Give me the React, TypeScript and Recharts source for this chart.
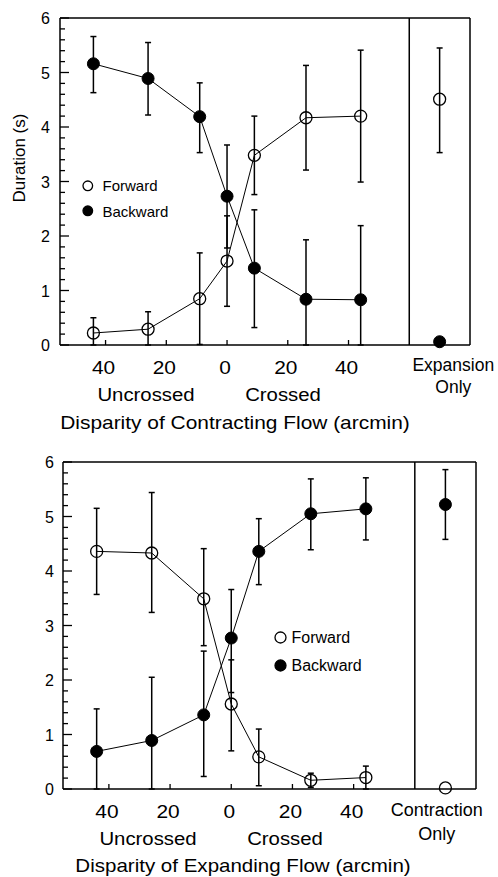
import React from 'react';
import { ComposedChart, Line, XAxis, YAxis, ErrorBar, ReferenceLine, Legend } from 'recharts';

const FONT = '"Liberation Sans", Arial, Helvetica, sans-serif';

// disparity (arcmin): uncrossed < 0, crossed > 0
const disparity = [-44, -26, -9, 0, 9, 26, 44];
const onlyPos = 70;
const xTicks = [-40, -20, 0, 20, 40];
const yTicks = Array.from({ length: 31 }, (_, i) => i / 5);

// contracting flow (top panel)
const contForward = [0.22, 0.29, 0.85, 1.54, 3.48, 4.17, 4.2];
const contForwardErr = [[0.22, 0.28], [0.29, 0.32], [0.84, 0.84], [0.83, 0.83], [0.72, 0.72], [0.96, 0.96], [1.21, 1.21]];
const contBackward = [5.16, 4.89, 4.19, 2.73, 1.41, 0.84, 0.83];
const contBackwardErr = [[0.53, 0.5], [0.67, 0.66], [0.66, 0.62], [0.95, 0.94], [1.09, 1.07], [0.84, 1.09], [0.83, 1.36]];
const expansionOnlyForward = 4.51;
const expansionOnlyForwardErr = [0.98, 0.94];
const expansionOnlyBackward = 0.06;

// expanding flow (bottom panel)
const expForward = [4.36, 4.33, 3.49, 1.56, 0.59, 0.16, 0.21];
const expForwardErr = [[0.79, 0.79], [1.09, 1.11], [0.86, 0.92], [0.86, 0.81], [0.53, 0.51], [0.13, 0.13], [0.21, 0.21]];
const expBackward = [0.69, 0.89, 1.36, 2.77, 4.36, 5.05, 5.14];
const expBackwardErr = [[0.69, 0.78], [0.89, 1.16], [1.13, 1.17], [1.0, 0.89], [0.61, 0.6], [0.66, 0.64], [0.57, 0.57]];
const contractionOnlyForward = 0.02;
const contractionOnlyBackward = 5.22;
const contractionOnlyBackwardErr = [0.64, 0.64];

const legendItems = [
  { name: 'Forward', filled: false },
  { name: 'Backward', filled: true },
];

const rows = (ys: number[], errs: number[][]) =>
  ys.map((y, i) => ({ x: disparity[i], y, err: errs[i] }));

const openDot = { r: 6, fill: 'none', stroke: '#000', strokeWidth: 1.3 };
const filledDot = { r: 6, fill: '#000', stroke: '#000', strokeWidth: 1 };

const XTick = (props: any) => {
  const { x, y, payload } = props;
  return (
    <g>
      <line x1={x} x2={x} y1={y} y2={y - 5} stroke="#000" strokeWidth={1.3} />
      <text
        transform={`translate(${x - 2},${y + 28.5}) scale(1.1,1)`}
        textAnchor="middle"
        fontSize={19}
        fontFamily={FONT}
        fill="#000"
      >
        {Math.abs(payload.value)}
      </text>
    </g>
  );
};

const makeYTick = (gap: number) => (props: any) => {
  const { x, y, payload } = props;
  const v = payload.value;
  const major = Math.abs(v - Math.round(v)) < 1e-6;
  return (
    <g>
      <line x1={x} x2={x + (major ? 9 : 5)} y1={y} y2={y} stroke="#000" strokeWidth={1.3} />
      {major && (
        <text x={x - gap} y={y + 6} textAnchor="end" fontSize={16} fontFamily={FONT} fill="#000">
          {Math.round(v)}
        </text>
      )}
    </g>
  );
};

const makeLegend = (cx: number, textX: number, y0: number, step: number, r: number, fs: number) => () => (
  <div style={{ position: 'relative', fontFamily: FONT }}>
    {legendItems.map((it, i) => (
      <div key={it.name}>
        <svg
          width={2 * r + 4}
          height={2 * r + 4}
          style={{ position: 'absolute', left: cx - r - 2, top: y0 + i * step - r - 2 }}
        >
          <circle
            cx={r + 2}
            cy={r + 2}
            r={r}
            fill={it.filled ? '#000' : '#fff'}
            stroke="#000"
            strokeWidth={1.3}
          />
        </svg>
        <div
          style={{
            position: 'absolute',
            left: textX,
            top: y0 + i * step,
            transform: 'translateY(-50%)',
            fontSize: fs,
            lineHeight: 1,
            whiteSpace: 'nowrap',
            color: '#000',
          }}
        >
          {it.name}
        </div>
      </div>
    ))}
  </div>
);

const Label = ({ x, y, children, size = 18, sx = 1 }: any) => (
  <div
    style={{
      position: 'absolute',
      left: x,
      top: y,
      transform: `translate(-50%,-50%) scaleX(${sx})`,
      fontSize: size,
      lineHeight: 1,
      whiteSpace: 'nowrap',
      fontFamily: FONT,
      color: '#000',
    }}
  >
    {children}
  </div>
);

function Panel(p: any) {
  const axisStyle = { stroke: '#000', strokeWidth: 1.5 };
  return (
    <div style={{ position: 'absolute', left: 0, top: p.top }}>
      <ComposedChart width={498} height={p.height} margin={p.margin}>
        <XAxis
          type="number"
          dataKey="x"
          domain={[-55, 80]}
          ticks={xTicks}
          interval={0}
          height={30}
          tickSize={0}
          tickMargin={0}
          tickLine={false}
          axisLine={axisStyle}
          tick={<XTick />}
        />
        <YAxis
          type="number"
          domain={[0, 6]}
          ticks={yTicks}
          interval={0}
          width={p.axisW}
          tickSize={0}
          tickMargin={0}
          tickLine={false}
          axisLine={axisStyle}
          tick={makeYTick(p.gap)}
        />
        <ReferenceLine y={6} stroke="#000" strokeWidth={1.5} />
        <ReferenceLine x={80} stroke="#000" strokeWidth={1.5} />
        <ReferenceLine x={60} stroke="#000" strokeWidth={1.5} />
        <Legend
          layout="vertical"
          align="center"
          verticalAlign="middle"
          wrapperStyle={{ left: 0, top: 0, width: 1, height: 1 }}
          content={p.legend}
        />
        <Line
          data={p.fwd}
          dataKey="y"
          stroke="#000"
          strokeWidth={1}
          dot={openDot}
          activeDot={false}
          legendType="none"
          isAnimationActive={false}
        >
          <ErrorBar dataKey="err" width={3} stroke="#000" strokeWidth={1.5} direction="y" />
        </Line>
        <Line
          data={p.bwd}
          dataKey="y"
          stroke="#000"
          strokeWidth={1}
          dot={filledDot}
          activeDot={false}
          legendType="none"
          isAnimationActive={false}
        >
          <ErrorBar dataKey="err" width={3} stroke="#000" strokeWidth={1.5} direction="y" />
        </Line>
        <Line
          data={p.onlyFwd}
          dataKey="y"
          stroke="none"
          dot={openDot}
          activeDot={false}
          legendType="none"
          isAnimationActive={false}
        >
          {p.onlyFwd[0].err && (
            <ErrorBar dataKey="err" width={3} stroke="#000" strokeWidth={1.5} direction="y" />
          )}
        </Line>
        <Line
          data={p.onlyBwd}
          dataKey="y"
          stroke="none"
          dot={filledDot}
          activeDot={false}
          legendType="none"
          isAnimationActive={false}
        >
          {p.onlyBwd[0].err && (
            <ErrorBar dataKey="err" width={3} stroke="#000" strokeWidth={1.5} direction="y" />
          )}
        </Line>
      </ComposedChart>
    </div>
  );
}

export default function App() {
  return (
    <div
      style={{
        position: 'absolute',
        left: 0,
        top: 0,
        width: 498,
        height: 877,
        background: '#fff',
        fontFamily: FONT,
        overflow: 'hidden',
      }}
    >
      <Panel
        top={0}
        height={440}
        margin={{ top: 18, right: 28, bottom: 65, left: 0 }}
        axisW={60}
        gap={10}
        fwd={rows(contForward, contForwardErr)}
        bwd={rows(contBackward, contBackwardErr)}
        onlyFwd={[{ x: onlyPos, y: expansionOnlyForward, err: expansionOnlyForwardErr }]}
        onlyBwd={[{ x: onlyPos, y: expansionOnlyBackward, err: null }]}
        legend={makeLegend(87.5, 102.5, 185.3, 25.3, 4.8, 15)}
      />
      <Panel
        top={440}
        height={437}
        margin={{ top: 22, right: 22, bottom: 58, left: 0 }}
        axisW={63}
        gap={9}
        fwd={rows(expForward, expForwardErr)}
        bwd={rows(expBackward, expBackwardErr)}
        onlyFwd={[{ x: onlyPos, y: contractionOnlyForward, err: null }]}
        onlyBwd={[{ x: onlyPos, y: contractionOnlyBackward, err: contractionOnlyBackwardErr }]}
        legend={makeLegend(280.8, 291.5, 197.5, 28, 5.5, 16)}
      />

      <div
        style={{
          position: 'absolute',
          left: 19,
          top: 158,
          transform: 'translate(-50%,-50%) rotate(-90deg)',
          fontSize: 17,
          lineHeight: 1,
          whiteSpace: 'nowrap',
          color: '#000',
        }}
      >
        Duration (s)
      </div>

      <Label x={146} y={394.5} sx={1.13}>Uncrossed</Label>
      <Label x={283.3} y={394.5} sx={1.13}>Crossed</Label>
      <Label x={234.5} y={421.5} size={19} sx={1.1}>Disparity of Contracting Flow (arcmin)</Label>
      <Label x={453.3} y={365.5} size={17.5}>Expansion</Label>
      <Label x={453.3} y={388.3} size={17.5}>Only</Label>

      <Label x={147.8} y={838.8} sx={1.13}>Uncrossed</Label>
      <Label x={285} y={838.8} sx={1.13}>Crossed</Label>
      <Label x={242.8} y={865} size={19} sx={1.08}>Disparity of Expanding Flow (arcmin)</Label>
      <Label x={436.7} y={810} size={18}>Contraction</Label>
      <Label x={436.7} y={834} size={18}>Only</Label>
    </div>
  );
}
